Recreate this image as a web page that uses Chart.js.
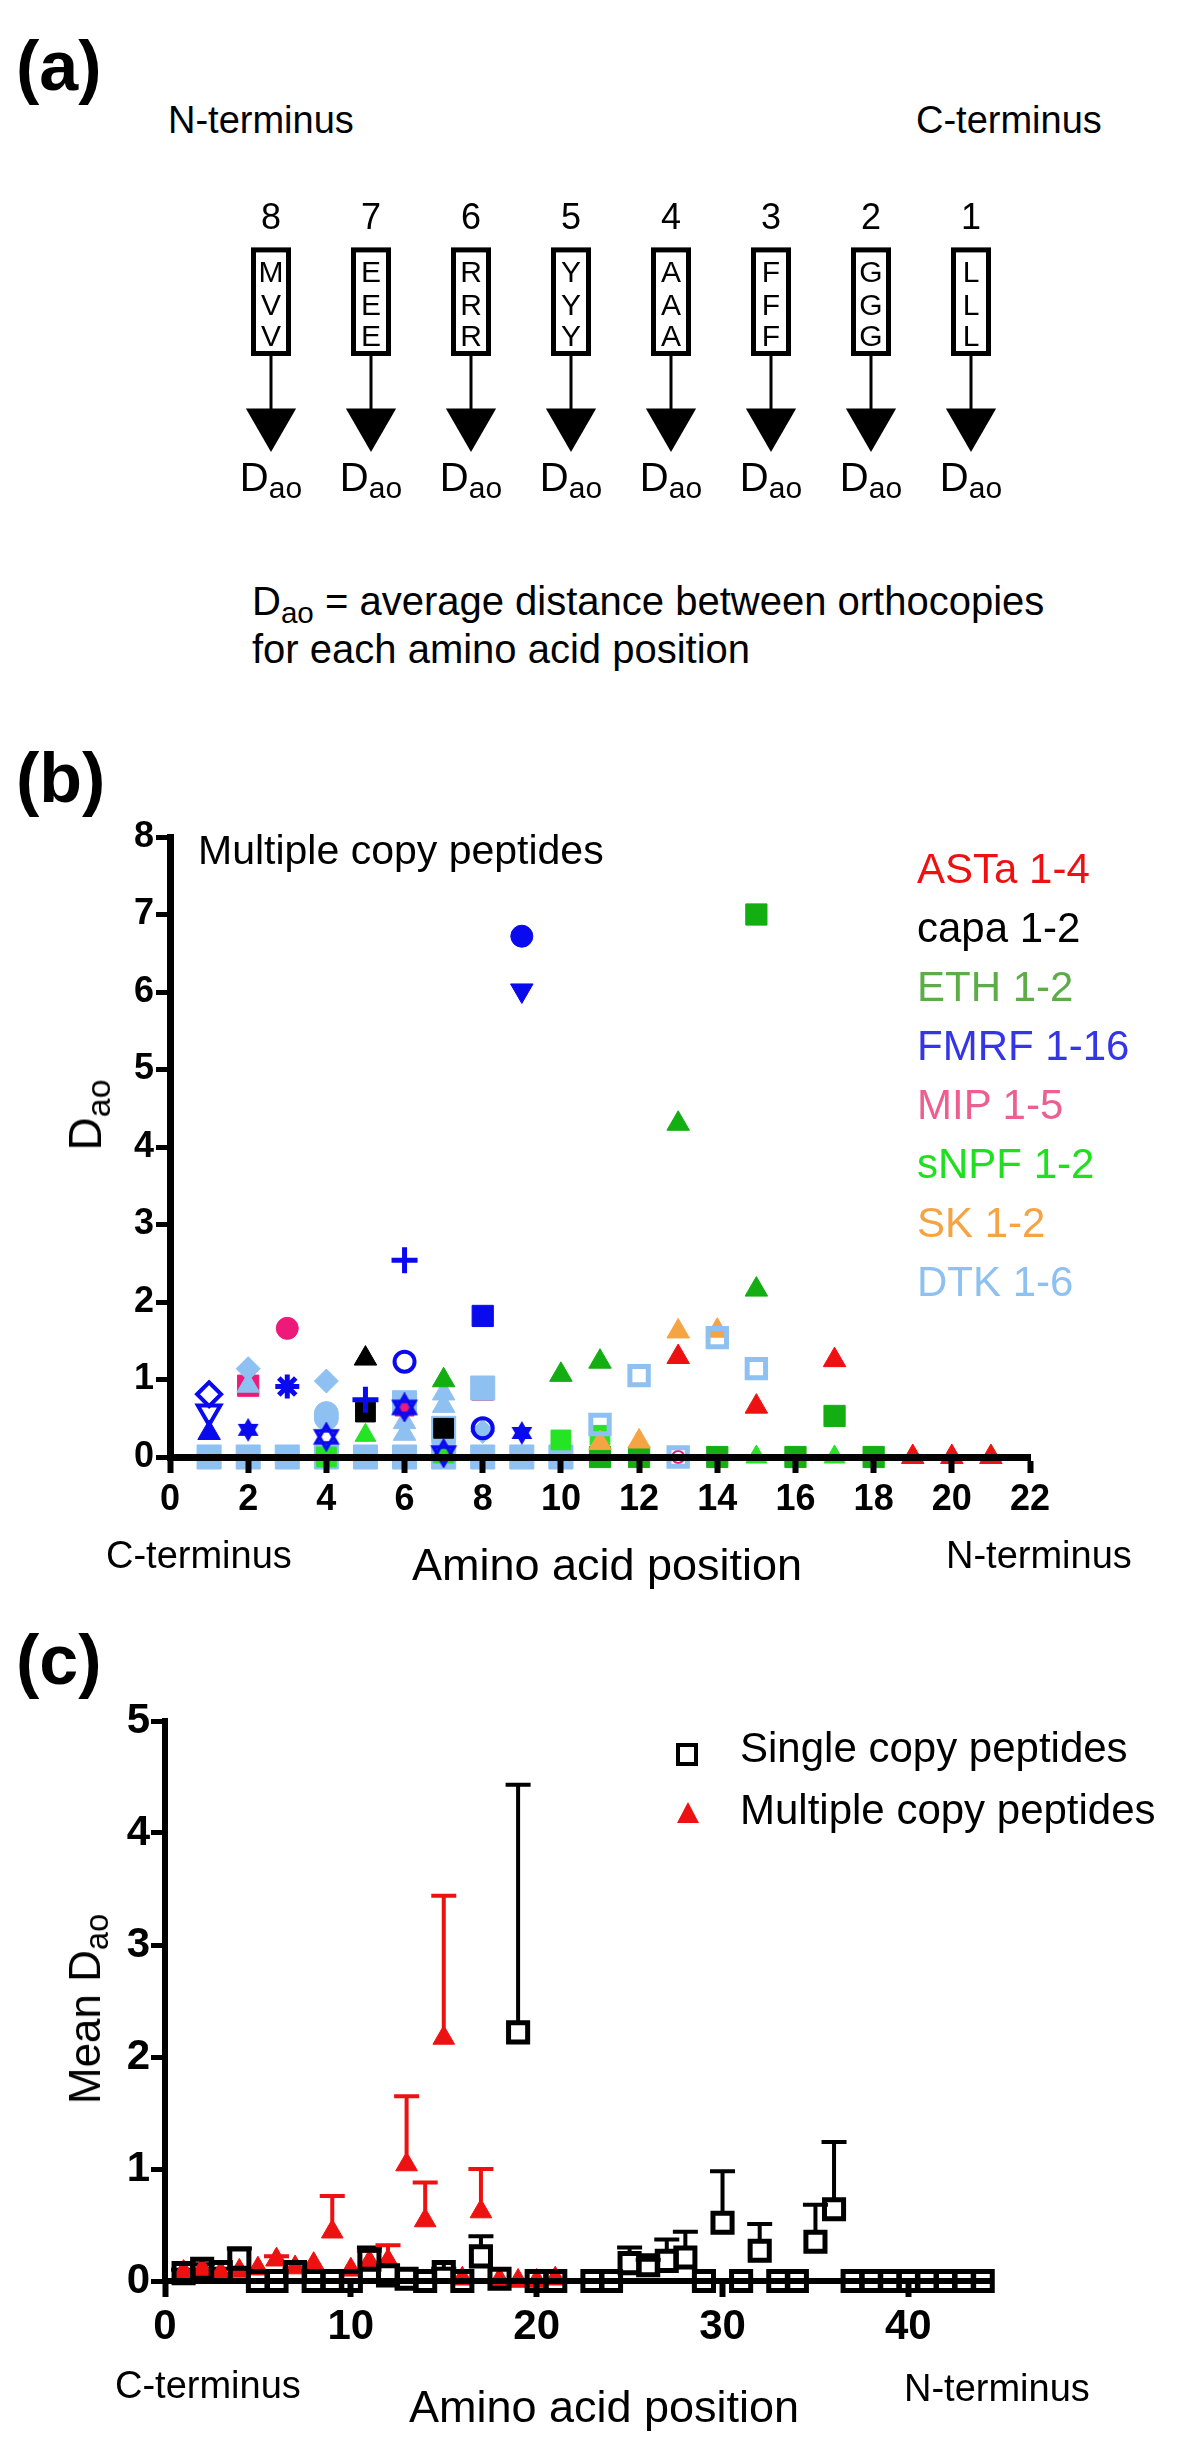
<!DOCTYPE html>
<html>
<head>
<meta charset="utf-8">
<script src="https://cdn.jsdelivr.net/npm/chart.js@4.4.1/dist/chart.umd.min.js"></script>
<style>
  html, body { margin: 0; padding: 0; background: #fff; }
  body { width: 1200px; height: 2463px; position: relative; overflow: hidden;
         font-family: "Liberation Sans", Arial, Helvetica, sans-serif; color: #000; }
  canvas { position: absolute; left: 0; }
  .t { position: absolute; line-height: 1; white-space: nowrap; }
  .t sub { font-size: 0.74em; vertical-align: -0.26em; line-height: 0; }
  .sq { position: absolute; box-sizing: border-box; width: 22px; height: 23px; border: 4px solid #000; }
  .tri { position: absolute; width: 0; height: 0; border-left: 11px solid transparent;
         border-right: 11px solid transparent; border-bottom: 21px solid #ee1111; }
</style>
</head>
<body>
<canvas id="chartA" width="1200" height="400" style="top:150px"></canvas>
<canvas id="chartB" width="1200" height="900" style="top:720px"></canvas>
<canvas id="chartC" width="1200" height="820" style="top:1640px"></canvas>
<script>
// ---- (a) schematic: positions counted from the C-terminus
const aPositions = [8, 7, 6, 5, 4, 3, 2, 1];
const aResidues = ['MVV', 'EEE', 'RRR', 'YYY', 'AAA', 'FFF', 'GGG', 'LLL'];

// ---- (b) multiple copy peptides: [position, Dao]
const astaTri = [[13, 1.29], [15, 0.65], [17, 1.25], [19, 0], [20, 0], [21, 0]];
const capaTri = [[5, 1.27]];
const capaSquare = [[5, 0.58], [7, 0.37]];
const ethSquare = [[15, 7.0], [17, 0.53], [11, 0], [12, 0], [14, 0], [16, 0], [18, 0]];
const ethTri = [[13, 4.3], [15, 2.16], [11, 1.23], [10, 1.06], [7, 0.99]];
const snpfTri = [[5, 0.28], [15, 0], [17, 0], [7, 0]];
const snpfSquare = [[10, 0.22], [11, 0.28], [4, 0]];
const fmrfDot = [[9, 6.72]];
const fmrfDown = [[9, 6.02]];
const fmrfPlus = [[6, 2.54], [5, 0.74]];
const fmrfSquare = [[8, 1.82]];
const fmrfRing = [[6, 1.23], [8, 0.37]];
const fmrfAsterisk = [[3, 0.91]];
const fmrfOpenDiamond = [[1, 0.81]];
const fmrfOpenDown = [[1, 0.58]];
const fmrfTri = [[1, 0.31]];
const fmrfStar = [[2, 0.35], [9, 0.31]];
const fmrfOpenStar = [[6, 0.64], [4, 0.26], [7, 0.05]];
const mipDot = [[3, 1.66]];
const mipTri = [[6, 0.6]];
const mipSquare = [[2, 0.92], [8, 0.87]];
const mipRing = [[10, 0], [13, 0]];
const skTri = [[13, 1.62], [14, 1.63], [11, 0.18], [12, 0.2]];
const dtkSquare = [[1, 0], [2, 0], [3, 0], [4, 0], [5, 0], [6, 0], [7, 0], [8, 0], [9, 0], [10, 0], [8, 0.89], [6, 0.7], [7, 0.37]];
const dtkDiamond = [[2, 1.14], [4, 0.98], [8, 0.33]];
const dtkTri = [[2, 0.92], [7, 0.82], [7, 0.66], [6, 0.45], [6, 0.3]];
const dtkDot = [[4, 0.5], [4, 0.56], [7, 0.2]];
const dtkOpenSquare = [[11, 0.42], [12, 1.05], [13, 0], [14, 1.54], [15, 1.14]];
const legendNames = ['ASTa 1-4', 'capa 1-2', 'ETH 1-2', 'FMRF 1-16', 'MIP 1-5', 'sNPF 1-2', 'SK 1-2', 'DTK 1-6'];

// ---- (c) mean Dao with upper SEM
const singlePos = [1, 2, 3, 4, 5, 6, 7, 8, 9, 10, 11, 12, 13, 14, 15, 16, 17, 18, 19, 20, 21,
  23, 24, 25, 26, 27, 28, 29, 30, 31, 32, 33, 34, 35, 36, 37, 38, 39, 40, 41, 42, 43, 44];
const singleMean = [0.07, 0.11, 0.08, 0.2, 0, 0, 0.08, 0, 0, 0, 0.19, 0.05, 0.02, 0, 0.08, 0, 0.22, 0.02, 2.22, 0, 0,
  0, 0, 0.16, 0.14, 0.18, 0.21, 0, 0.52, 0, 0.27, 0, 0, 0.35, 0.64, 0, 0, 0, 0, 0, 0, 0, 0];
const singleSem = [0.03, 0.04, 0.03, 0.09, 0, 0, 0.03, 0, 0, 0, 0.11, 0, 0, 0, 0.03, 0, 0.18, 0, 2.21, 0, 0,
  0, 0, 0.14, 0.05, 0.19, 0.23, 0, 0.46, 0, 0.24, 0, 0, 0.33, 0.6, 0, 0, 0, 0, 0, 0, 0, 0];
const multiPos = [1, 2, 3, 4, 5, 6, 7, 8, 9, 10, 11, 12, 13, 14, 15, 16, 17, 18, 19, 20, 21];
const multiMean = [0.08, 0.1, 0.07, 0.09, 0.11, 0.19, 0.12, 0.15, 0.44, 0.1, 0.17, 0.18, 1.04, 0.54, 2.17, 0.02, 0.62, 0.01, 0, 0, 0.02];
const multiSem = [0, 0, 0, 0, 0, 0.03, 0, 0, 0.32, 0, 0.1, 0.14, 0.61, 0.34, 1.27, 0, 0.38, 0, 0, 0, 0];

const FONT = '"Liberation Sans", Arial, Helvetica, sans-serif';
const colors = {
  asta: '#ee1111', capa: '#000000', eth: '#12ae12', fmrf: '#0a0aee',
  mip: '#ee1a7a', snpf: '#24e424', sk: '#f5a443', dtk: '#8fc0f2'
};
const legendColors = ['#ee1111', '#000000', '#5cad48', '#3535e8', '#ee5f8f', '#1ee01e', '#f5a443', '#8fc0f2'];
const clear = 'rgba(0,0,0,0)';

function addText(html, x, baseline, size, extra) {
  const el = document.createElement('div');
  el.className = 't';
  el.innerHTML = html;
  el.style.fontSize = size + 'px';
  el.style.left = x + 'px';
  el.style.top = (baseline - 0.8465 * size) + 'px';
  Object.assign(el.style, extra || {});
  document.body.appendChild(el);
  return el;
}

function addRotated(html, cx, cy, size) {
  const el = document.createElement('div');
  el.className = 't';
  el.innerHTML = html;
  el.style.fontSize = size + 'px';
  el.style.left = cx + 'px';
  el.style.top = cy + 'px';
  el.style.transform = 'translate(-50%, -50%) rotate(-90deg)';
  document.body.appendChild(el);
}

// six pointed star marker (filled or outlined)
function hexagram(color, size, filled) {
  const c = document.createElement('canvas');
  c.width = c.height = size;
  const g = c.getContext('2d');
  const r = size / 2 - 3, m = size / 2;
  g.fillStyle = color;
  g.strokeStyle = color;
  g.lineWidth = 3.5;
  [0, Math.PI].forEach(off => {
    g.beginPath();
    for (let k = 0; k < 3; k++) {
      const a = off - Math.PI / 2 + k * 2 * Math.PI / 3;
      if (k === 0) g.moveTo(m + r * Math.cos(a), m + r * Math.sin(a));
      else g.lineTo(m + r * Math.cos(a), m + r * Math.sin(a));
    }
    g.closePath();
    filled ? g.fill() : g.stroke();
  });
  return c;
}

function series(list, color, style, opt) {
  return Object.assign({
    data: list.map(([x, y]) => ({ x, y })),
    pointStyle: style,
    pointRadius: 13,
    backgroundColor: color,
    borderColor: color,
    borderWidth: 1,
    clip: false,
    showLine: false
  }, opt || {});
}
const open = { backgroundColor: clear, borderWidth: 4 };

// ---------------- panel (a)
const ROW = { number: 59, boxTop: 80, boxBottom: 207, letters: [121, 159, 195], arrowBase: 271, arrow: 285.5, dao: 365, sub: 373 };

const schematic = {
  id: 'schematic',
  afterDatasetsDraw(chart) {
    const { ctx, scales: { x, y } } = chart;
    ctx.save();
    ctx.fillStyle = '#000';
    ctx.strokeStyle = '#000';
    ctx.textBaseline = 'alphabetic';
    aPositions.forEach((p, i) => {
      const cx = x.getPixelForValue(p);
      ctx.textAlign = 'center';
      ctx.font = '36px ' + FONT;
      ctx.fillText(String(p), cx, y.getPixelForValue(ROW.number));

      const top = y.getPixelForValue(ROW.boxTop), bot = y.getPixelForValue(ROW.boxBottom);
      ctx.lineWidth = 5;
      ctx.strokeRect(cx - 17.5, top + 2.5, 35, bot - top - 5);
      ctx.font = '30px ' + FONT;
      aResidues[i].split('').forEach((ch, k) => ctx.fillText(ch, cx, y.getPixelForValue(ROW.letters[k])));

      ctx.lineWidth = 3;
      ctx.beginPath();
      ctx.moveTo(cx, bot);
      ctx.lineTo(cx, y.getPixelForValue(ROW.arrowBase));
      ctx.stroke();

      ctx.textAlign = 'left';
      ctx.font = '40px ' + FONT;
      const wD = ctx.measureText('D').width;
      ctx.font = '30px ' + FONT;
      const wA = ctx.measureText('ao').width;
      const x0 = cx - (wD + wA) / 2;
      ctx.font = '40px ' + FONT;
      ctx.fillText('D', x0, y.getPixelForValue(ROW.dao));
      ctx.font = '30px ' + FONT;
      ctx.fillText('ao', x0 + wD, y.getPixelForValue(ROW.sub));
    });
    ctx.restore();
  }
};

new Chart(document.getElementById('chartA'), {
  type: 'scatter',
  data: {
    datasets: [{
      data: aPositions.map(p => ({ x: p, y: ROW.arrow })),
      pointStyle: 'triangle', pointRotation: 180, pointRadius: 29,
      backgroundColor: '#000', borderColor: '#000', borderWidth: 0, clip: false
    }]
  },
  options: {
    responsive: false, animation: false, devicePixelRatio: 1,
    layout: { padding: { left: 221, right: 179, top: 0, bottom: 0 } },
    plugins: { legend: { display: false }, tooltip: { enabled: false } },
    scales: {
      x: { type: 'linear', min: 0.5, max: 8.5, reverse: true, display: false },
      y: { min: 0, max: 400, reverse: true, display: false }
    }
  },
  plugins: [schematic]
});

// ---------------- shared axis styling
function axisX(min, max, step, size, pad, height, bw) {
  return {
    type: 'linear', min, max,
    ticks: { stepSize: step, includeBounds: false, color: '#000', padding: pad, font: { family: FONT, size, weight: 'bold' } },
    grid: { drawOnChartArea: false, drawTicks: true, tickLength: 16, tickWidth: 6, tickColor: '#000', z: 1 },
    border: { display: true, color: '#000', width: bw, z: 1 },
    afterFit: s => { s.height = height; }
  };
}
function axisY(min, max, size, pad, width, bw) {
  return {
    min, max,
    ticks: { stepSize: 1, color: '#000', padding: pad, font: { family: FONT, size, weight: 'bold' } },
    grid: { drawOnChartArea: false, drawTicks: true, tickLength: 14, tickWidth: 5, tickColor: '#000', z: 1 },
    border: { display: true, color: '#000', width: bw, z: 1 },
    afterFit: s => { s.width = width; }
  };
}

// ---------------- panel (b)
const C = colors;
new Chart(document.getElementById('chartB'), {
  type: 'scatter',
  data: {
    datasets: [
      series(fmrfDot, C.fmrf, 'circle', { pointRadius: 11 }),
      series(fmrfDown, C.fmrf, 'triangle', { pointRotation: 180 }),
      series(fmrfPlus, C.fmrf, 'cross', { borderWidth: 5 }),
      series(fmrfSquare, C.fmrf, 'rect', { pointRadius: 15 }),
      series(fmrfRing, C.fmrf, 'circle', { ...open, pointRadius: 10 }),
      series(fmrfAsterisk, C.fmrf, 'star', { borderWidth: 5, pointRadius: 12 }),
      series(fmrfOpenDiamond, C.fmrf, 'rectRot', { ...open, pointRadius: 12 }),
      series(fmrfOpenDown, C.fmrf, 'triangle', { ...open, pointRotation: 180 }),
      series(fmrfTri, C.fmrf, 'triangle'),
      series(fmrfStar, C.fmrf, hexagram(C.fmrf, 30, true)),
      series(fmrfOpenStar, C.fmrf, hexagram(C.fmrf, 30, false)),
      series(mipTri, C.mip, 'triangle', { pointRadius: 11 }),
      series(mipDot, C.mip, 'circle', { pointRadius: 11 }),
      series(capaTri, C.capa, 'triangle'),
      series(capaSquare, C.capa, 'rect', { pointRadius: 14 }),
      series(dtkOpenSquare, C.dtk, 'rect', { ...open, borderWidth: 5 }),
      series(skTri, C.sk, 'triangle'),
      series(astaTri, C.asta, 'triangle'),
      series(ethTri, C.eth, 'triangle'),
      series(ethSquare, C.eth, 'rect', { pointRadius: 15 }),
      series(snpfTri, C.snpf, 'triangle', { pointRadius: 12 }),
      series(snpfSquare, C.snpf, 'rect', { pointRadius: 14 }),
      series(dtkDiamond, C.dtk, 'rectRot', { pointRadius: 12 }),
      series(dtkTri, C.dtk, 'triangle'),
      series(dtkDot, C.dtk, 'circle', { pointRadius: 12 }),
      series(dtkSquare, C.dtk, 'rect', { pointRadius: 17 }),
      series(mipSquare, C.mip, 'rect', { pointRadius: 15 }),
      series(mipRing, C.mip, 'circle', { ...open, borderWidth: 2, pointRadius: 6 })
    ]
  },
  options: {
    responsive: false, animation: false, devicePixelRatio: 1,
    layout: { padding: { left: 0, right: 170, top: 117, bottom: 0 } },
    plugins: { legend: { display: false }, tooltip: { enabled: false } },
    scales: {
      x: axisX(0, 22, 2, 36, 5, 163, 7),
      y: axisY(0, 8, 36, 2, 170, 7)
    }
  }
});

// ---------------- panel (c)
const errorBars = {
  id: 'errorBars',
  beforeDatasetsDraw(chart) {
    const { ctx, scales: { x, y } } = chart;
    ctx.save();
    chart.data.datasets.forEach(ds => {
      ctx.strokeStyle = ds.borderColor;
      ctx.lineWidth = 4;
      ds.data.forEach((pt, i) => {
        const sem = ds.sem[i];
        if (!sem) return;
        const px = x.getPixelForValue(pt.x);
        const y0 = y.getPixelForValue(pt.y) - 10;
        const y1 = y.getPixelForValue(pt.y + sem);
        ctx.beginPath();
        ctx.moveTo(px, y0);
        ctx.lineTo(px, y1);
        ctx.moveTo(px - 12.5, y1);
        ctx.lineTo(px + 12.5, y1);
        ctx.stroke();
      });
    });
    ctx.restore();
  }
};

new Chart(document.getElementById('chartC'), {
  type: 'scatter',
  data: {
    datasets: [
      {
        data: singlePos.map((p, i) => ({ x: p, y: singleMean[i] })), sem: singleSem,
        pointStyle: 'rect', pointRadius: 13.5, borderWidth: 5, borderColor: '#000', backgroundColor: clear, clip: false
      },
      {
        data: multiPos.map((p, i) => ({ x: p, y: multiMean[i] })), sem: multiSem,
        pointStyle: 'triangle', pointRadius: 12.5, borderWidth: 1, borderColor: '#ee1111', backgroundColor: '#ee1111', clip: false
      }
    ]
  },
  options: {
    responsive: false, animation: false, devicePixelRatio: 1,
    layout: { padding: { left: 0, right: 208, top: 81, bottom: 0 } },
    plugins: { legend: { display: false }, tooltip: { enabled: false } },
    scales: {
      x: axisX(0, 44.5, 10, 42, 5, 179, 6),
      y: axisY(0, 5, 42, 1, 165, 6)
    }
  },
  plugins: [errorBars]
});

// ---------------- text
addText('(a)', 16, 90, 70, { fontWeight: 'bold' });
addText('N-terminus', 168, 133, 38);
addText('C-terminus', 916, 133, 38);
addText('D<sub>ao</sub> = average distance between orthocopies', 252, 615, 40);
addText('for each amino acid position', 252, 663, 40);

addText('(b)', 16, 802, 70, { fontWeight: 'bold' });
addText('Multiple copy peptides', 198, 865, 41);
legendNames.forEach((name, i) => addText(name, 917, 884 + 59 * i, 42, { color: legendColors[i] }));
addRotated('D<sub>ao</sub>', 85, 1115, 46);
addText('C-terminus', 106, 1568, 38);
addText('Amino acid position', 607, 1580, 45, { transform: 'translateX(-50%)' });
addText('N-terminus', 946, 1568, 38);

addText('(c)', 16, 1684, 70, { fontWeight: 'bold' });
const sq = document.createElement('div');
sq.className = 'sq';
sq.style.left = '676px'; sq.style.top = '1743px';
document.body.appendChild(sq);
const tri = document.createElement('div');
tri.className = 'tri';
tri.style.left = '677px'; tri.style.top = '1802px';
document.body.appendChild(tri);
addText('Single copy peptides', 740, 1763, 42);
addText('Multiple copy peptides', 740, 1825, 42);
addRotated('Mean D<sub>ao</sub>', 85, 2009, 44);
addText('C-terminus', 115, 2398, 38);
addText('Amino acid position', 604, 2422, 45, { transform: 'translateX(-50%)' });
addText('N-terminus', 904, 2401, 38);
</script>
</body>
</html>
